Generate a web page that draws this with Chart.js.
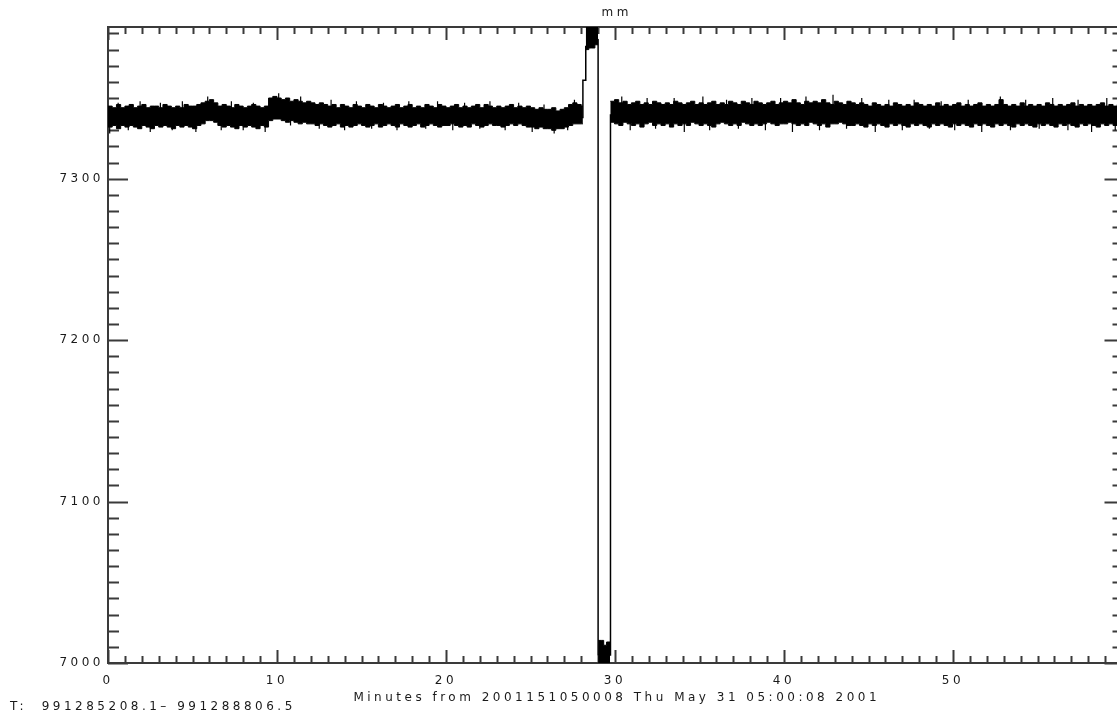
<!DOCTYPE html>
<html>
<head>
<meta charset="utf-8">
<title>mm</title>
<script src="https://cdn.jsdelivr.net/npm/chart.js@4.4.1/dist/chart.umd.min.js"></script>
<style>
    html, body { margin: 0; padding: 0; background: #fff; overflow: hidden; }
    #wrap { width: 1124px; height: 717px; }
</style>
</head>
<body>
<div id="wrap"><canvas id="mmChart" width="1124" height="717"></canvas></div>
<script>
// axis setup (minutes from start, mm)
const xTicks = [0, 10, 20, 30, 40, 50];
const yTicks = [7000, 7100, 7200, 7300];
const X_MAX = 59.97;
const Y_MIN = 7000;
const Y_MAX = 7394;

// noise band envelope, sampled every 0.25 min
const BAND_STEP = 0.25;
const bandAStart = 0, bandAEnd = 28.1;
const bandAHi = [
    7345, 7344, 7346, 7344,  7345, 7346, 7344, 7345,  7346, 7344, 7345, 7345,  7344, 7346, 7345, 7344,
    7345, 7344, 7346, 7345,  7345, 7346, 7347, 7348,  7349, 7347, 7345, 7346,  7345, 7344, 7346, 7345,
    7344, 7345, 7346, 7345,  7344, 7345, 7350, 7351,  7350, 7349, 7350, 7348,  7349, 7348, 7347, 7348,
    7347, 7346, 7347, 7346,  7345, 7346, 7344, 7346,  7345, 7344, 7346, 7345,  7344, 7346, 7345, 7344,
    7346, 7345, 7344, 7345,  7346, 7344, 7345, 7346,  7344, 7345, 7344, 7346,  7345, 7344, 7346, 7345,
    7344, 7345, 7346, 7344,  7345, 7344, 7345, 7346,  7344, 7346, 7345, 7344,  7345, 7344, 7345, 7346,
    7344, 7345, 7344, 7345,  7344, 7343, 7344, 7343,  7343, 7344, 7342, 7343,  7344, 7346, 7347, 7346,
    7345
];
const bandALo = [
    7332, 7333, 7331, 7333,  7332, 7333, 7332, 7331,  7333, 7332, 7331, 7333,  7332, 7333, 7332, 7331,
    7333, 7332, 7333, 7332,  7331, 7333, 7334, 7336,  7336, 7335, 7333, 7332,  7333, 7332, 7331, 7333,
    7332, 7333, 7332, 7331,  7333, 7332, 7336, 7337,  7337, 7336, 7335, 7336,  7335, 7334, 7335, 7334,
    7334, 7333, 7334, 7333,  7332, 7333, 7334, 7332,  7333, 7332, 7333, 7334,  7333, 7332, 7333, 7334,
    7332, 7333, 7334, 7333,  7332, 7334, 7333, 7332,  7333, 7334, 7332, 7333,  7334, 7333, 7332, 7333,
    7333, 7334, 7333, 7332,  7333, 7332, 7334, 7333,  7332, 7333, 7334, 7333,  7333, 7332, 7333, 7334,
    7333, 7334, 7333, 7332,  7332, 7331, 7332, 7331,  7331, 7330, 7331, 7331,  7332, 7333, 7334, 7334,
    7334
];

const bandBStart = 29.72, bandBEnd = X_MAX;
const bandBHi = [
    7348,
    7349, 7347, 7348, 7346,  7347, 7348, 7346, 7347,  7346, 7348, 7347, 7346,  7347, 7346, 7348, 7347,
    7346, 7347, 7348, 7346,  7347, 7346, 7347, 7348,  7346, 7347, 7346, 7348,  7347, 7346, 7348, 7347,
    7346, 7348, 7347, 7346,  7347, 7348, 7346, 7347,  7348, 7347, 7349, 7347,  7346, 7348, 7347, 7348,
    7347, 7349, 7347, 7346,  7348, 7347, 7346, 7348,  7347, 7346, 7347, 7346,  7345, 7347, 7346, 7345,
    7346, 7345, 7347, 7346,  7345, 7346, 7345, 7347,  7346, 7345, 7346, 7345,  7347, 7345, 7346, 7345,
    7346, 7347, 7345, 7346,  7345, 7346, 7347, 7345,  7346, 7345, 7346, 7349,  7346, 7345, 7346, 7345,
    7347, 7345, 7346, 7345,  7346, 7345, 7347, 7346,  7345, 7346, 7345, 7346,  7347, 7345, 7346, 7345,
    7346, 7345, 7346, 7347,  7345, 7346, 7345, 7346
];
const bandBLo = [
    7335,
    7334, 7333, 7335, 7334,  7333, 7334, 7332, 7334,  7335, 7333, 7334, 7333,  7334, 7332, 7334, 7333,
    7334, 7333, 7335, 7334,  7333, 7334, 7333, 7332,  7334, 7335, 7334, 7333,  7334, 7333, 7335, 7334,
    7333, 7334, 7333, 7334,  7335, 7334, 7333, 7334,  7334, 7335, 7334, 7333,  7334, 7333, 7335, 7334,
    7333, 7334, 7332, 7334,  7334, 7335, 7334, 7333,  7333, 7334, 7333, 7332,  7334, 7333, 7334, 7333,
    7332, 7334, 7333, 7334,  7333, 7332, 7334, 7333,  7334, 7333, 7332, 7334,  7333, 7334, 7333, 7332,
    7334, 7333, 7334, 7333,  7332, 7334, 7333, 7334,  7333, 7332, 7334, 7333,  7334, 7333, 7332, 7334,
    7333, 7334, 7333, 7332,  7334, 7333, 7334, 7333,  7332, 7334, 7333, 7334,  7333, 7332, 7334, 7333,
    7334, 7333, 7332, 7334,  7333, 7334, 7333, 7334
];

// single-sample spikes sticking out of the band
const SPIKE_BASE = 7339;
const spikeUpT = [0.6, 1.9, 3.1, 4.4, 5.9, 7.3, 8.6, 10.1, 11.4, 13.2, 14.7, 16.3, 17.8, 19.5, 21.1, 22.6, 24.3, 25.8, 27.6,
                  30.4, 31.9, 33.5, 35.2, 36.6, 38.1, 39.8, 41.3, 42.9, 44.6, 46.2, 47.7, 49.3, 50.9, 52.8, 54.3, 55.9, 57.4, 59.1];
const spikeUpV = [7347, 7348, 7347, 7348, 7351, 7348, 7347, 7353, 7351, 7349, 7348, 7347, 7348, 7348, 7347, 7348, 7347, 7346, 7349,
                  7351, 7350, 7350, 7351, 7349, 7350, 7350, 7351, 7352, 7350, 7349, 7349, 7348, 7349, 7351, 7349, 7350, 7349, 7350];
const spikeDnT = [0.1, 1.2, 2.5, 3.8, 5.2, 6.7, 8.0, 9.3, 10.8, 12.5, 14.0, 15.6, 17.1, 18.8, 20.4, 22.0, 23.5, 25.1, 26.4, 27.2,
                  30.9, 32.4, 34.1, 35.6, 37.3, 38.9, 40.5, 42.1, 43.7, 45.4, 47.0, 48.6, 50.1, 51.7, 53.4, 55.1, 56.8, 58.2, 59.6];
const spikeDnV = [7328, 7330, 7329, 7330, 7329, 7330, 7330, 7329, 7333, 7331, 7330, 7331, 7330, 7331, 7330, 7331, 7330, 7329, 7328, 7330,
                  7330, 7331, 7329, 7330, 7331, 7330, 7329, 7330, 7331, 7329, 7330, 7331, 7330, 7329, 7330, 7331, 7330, 7329, 7330];

// saturated block at the top of the excursion
const topT  = [28.27, 28.45, 28.63, 28.81, 29.0];
const topLo = [7380, 7381, 7381, 7383, 7383];
const topHi = [7400, 7400, 7400, 7400, 7400];

// block at the bottom of the excursion
const botT  = [29.0, 29.18, 29.33, 29.5, 29.71];
const botLo = [6990, 6990, 6990, 6990, 6990];
const botHi = [7014, 7014, 7011, 7013, 7013];

// the jumps between the blocks
const jumpT = [28.0, 28.1, 28.1, 28.26, 28.27, 28.27, 29.0, 29.0, 29.71, 29.71, 29.73, 29.73, 29.76];
const jumpV = [7338, 7338, 7361, 7361, 7361, 7382, 7386, 7005, 7005, 7172, 7176, 7340, 7340];

const TEXT_FONT = '12px "DejaVu Sans", sans-serif';
const INK = '#1a1a1a';
const AXIS = '#3a3a3a';

function stepPoints(start, values, end) {
    const pts = values.map((v, i) => ({ x: start + i * BAND_STEP, y: v }));
    pts.push({ x: end, y: values[values.length - 1] });
    return pts;
}
function pairPoints(xs, ys) {
    return xs.map((x, i) => ({ x: x, y: ys[i] }));
}
// each spike is a short vertical stroke from inside the band to its tip
function spikePoints(xs, tips) {
    const pts = [];
    xs.forEach((x, i) => {
        pts.push({ x: x, y: SPIKE_BASE }, { x: x, y: tips[i] }, { x: x, y: null });
    });
    return pts;
}

function envelope(lo, hi) {
    return [
        { data: lo, stepped: true, borderColor: '#000', borderWidth: 1, fill: false },
        { data: hi, stepped: true, borderColor: '#000', borderWidth: 1, backgroundColor: '#000', fill: '-1' }
    ];
}

// IDL style frame: ticks point inward on all four sides
const idlFrame = {
    id: 'idlFrame',
    beforeDatasetsDraw(chart) {
        const { ctx, chartArea: a, scales } = chart;
        const x = scales.x, y = scales.y;
        ctx.save();
        ctx.strokeStyle = AXIS;
        ctx.lineWidth = 2;
        ctx.beginPath();
        for (let m = 0; m <= Math.floor(X_MAX); m++) {
            const px = Math.round(x.getPixelForValue(m)) + 0.5;
            const len = m % 10 === 0 ? 13 : 7;
            ctx.moveTo(px, a.bottom); ctx.lineTo(px, a.bottom - len);
            ctx.moveTo(px, a.top); ctx.lineTo(px, a.top + len);
        }
        for (let v = Y_MIN; v <= Y_MAX; v += 10) {
            const py = Math.round(y.getPixelForValue(v)) + 0.5;
            const major = v % 100 === 0;
            ctx.moveTo(a.left, py); ctx.lineTo(a.left + (major ? 20 : 11), py);
            ctx.moveTo(a.right, py); ctx.lineTo(a.right - (major ? 17 : 9), py);
        }
        ctx.stroke();
        ctx.strokeRect(a.left, a.top, a.right - a.left, a.bottom - a.top);
        ctx.restore();
    }
};

const idlText = {
    id: 'idlText',
    beforeDraw(chart) {
        chart.ctx.letterSpacing = '3.5px';
    },
    afterDraw(chart) {
        const { ctx, chartArea: a } = chart;
        const mid = (a.left + a.right) / 2;
        ctx.save();
        ctx.font = TEXT_FONT;
        ctx.fillStyle = INK;
        ctx.textBaseline = 'middle';
        ctx.textAlign = 'center';
        ctx.fillText('mm', mid + 2, 13);
        ctx.fillText('Minutes from 2001151050008 Thu May 31 05:00:08 2001', mid + 2, 698);
        ctx.textAlign = 'left';
        ctx.fillText('T:  991285208.1\u2013 991288806.5', 10, 707);
        ctx.restore();
    }
};

const datasets = [
    ...envelope(stepPoints(bandAStart, bandALo, bandAEnd), stepPoints(bandAStart, bandAHi, bandAEnd)),
    ...envelope(stepPoints(bandBStart, bandBLo, bandBEnd), stepPoints(bandBStart, bandBHi, bandBEnd)),
    ...envelope(pairPoints(topT, topLo), pairPoints(topT, topHi)),
    ...envelope(pairPoints(botT, botLo), pairPoints(botT, botHi)),
    { data: spikePoints(spikeUpT, spikeUpV), borderColor: '#000', borderWidth: 1.2, fill: false, spanGaps: false },
    { data: spikePoints(spikeDnT, spikeDnV), borderColor: '#000', borderWidth: 1.2, fill: false, spanGaps: false },
    { data: pairPoints(jumpT, jumpV), borderColor: '#000', borderWidth: 1.5, fill: false }
];

new Chart(document.getElementById('mmChart'), {
    type: 'line',
    data: { datasets: datasets },
    options: {
        responsive: false,
        devicePixelRatio: 1,
        animation: false,
        layout: { padding: { left: 0, top: 27, right: 2.5, bottom: 0 } },
        elements: { point: { radius: 0 }, line: { tension: 0 } },
        plugins: { legend: { display: false }, tooltip: { enabled: false } },
        scales: {
            x: {
                type: 'linear',
                min: 0,
                max: X_MAX,
                afterBuildTicks: s => { s.ticks = xTicks.map(v => ({ value: v })); },
                afterFit: s => { s.height = 54; },
                grid: { display: false, drawTicks: false },
                border: { display: false },
                ticks: {
                    padding: 11,
                    maxRotation: 0,
                    autoSkip: false,
                    color: INK,
                    font: { family: '"DejaVu Sans", sans-serif', size: 12 },
                    callback: v => String(v)
                }
            },
            y: {
                type: 'linear',
                min: Y_MIN,
                max: Y_MAX,
                afterBuildTicks: s => { s.ticks = yTicks.map(v => ({ value: v })); },
                afterFit: s => { s.width = 108; },
                grid: { display: false, drawTicks: false },
                border: { display: false },
                ticks: {
                    padding: 4,
                    autoSkip: false,
                    color: INK,
                    font: { family: '"DejaVu Sans", sans-serif', size: 12 },
                    callback: v => String(v)
                }
            }
        }
    },
    plugins: [idlFrame, idlText]
});
</script>
</body>
</html>
